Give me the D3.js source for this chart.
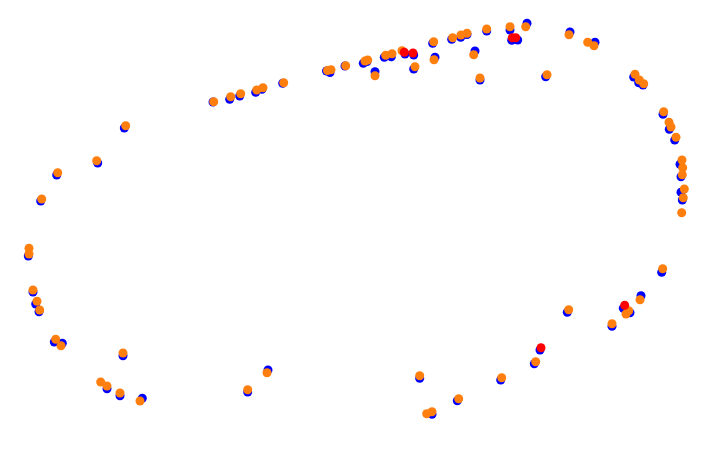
<!DOCTYPE html>
<html><head><meta charset="utf-8">
<script src="https://cdn.jsdelivr.net/npm/d3@7"></script>
<style>html,body{margin:0;padding:0;background:#fff;}svg{display:block;}</style>
</head><body>
<script>
const blueX=[40.7,56.7,97.7,124.3,213,229.7,239.7,255.7,262,282.7,326.5,330,345,363.3,367,375,384.3,391.3,405,413.7,413.7,432.7,435,451.7,460.7,467,475,480,486.7,510,511.7,517.7,527,545.7,570,595,633.7,638.7,643,663,669.3,674.7,680,681,681,682.3,28.3,33,35.7,39,54.3,62.3,123,107,120,142.3,247.7,268,661.7,641,623.3,630,612,567.3,540,534.3,500.7,419.7,457.3,432];
const blueY=[201,175,163,128,102,99.3,96,92.3,89.3,83.3,71,72.5,66,63.3,61.5,71.7,57.3,56.7,54,55,69,43.3,57.3,39.3,37.3,34.5,51,80,31,30,40.3,40,23.3,76.7,32,42.3,77,82.7,85,114.3,129.3,140,164.3,176.7,192.3,200,256,292,304,311.7,342,343.3,355.7,388.7,395.7,398.3,392,370,272.3,295.7,308.3,312.7,326.3,312.3,350,363.7,380,378.3,400.7,414.3];
const orangeX=[41.7,57.7,96.7,125.7,213.7,230.7,240.7,256.7,263,283.7,327.5,331,345.7,365,367.7,375,385.7,392,402,415,433.7,434,452.7,461,467,473.7,480,486.7,510,525.7,547,569,587.7,594,635,639.3,643.7,663.7,669,671,676,682,682.7,682.3,684.3,683.3,681.7,29,29,33,37,39.7,55.7,61,123,100.7,107,120,140,247.7,267,662.7,640,628.7,626,612,568.7,535.7,501.7,419.7,458.7,432,426.7];
const orangeY=[199,172.7,160.7,125.7,101.7,96.7,93.7,90,87.7,82.7,70.5,69.7,65.7,61,60,75.7,55.3,53.7,50.7,66.7,41.7,59.7,37.7,35,33.3,54.7,78,29,26.7,26.7,74.7,34.7,42.3,45.7,74.3,80,83.7,111.7,122.3,127,137.3,160,167.7,174.7,189,197.7,212.7,248.3,254,290,301.3,310,339.3,345.7,353,382,386,393,401,389.7,372.7,268.7,299.7,310.7,314,323.7,309.7,361.7,377.7,375.7,398.7,411.7,413.7];
const redX=[404.3,413,512.3,515.7,624.7,541];
const redY=[52.3,53,37.7,37.7,305.3,347.7];

const W=711,H=476;
const svg=d3.select("body").append("svg").attr("width",W).attr("height",H);
const x=d3.scaleLinear().domain([0,711]).range([0,W]);
const y=d3.scaleLinear().domain([0,476]).range([0,H]);
const r=4.5;
function draw(xs,ys,color){
  svg.append("g").selectAll("circle").data(xs.map((v,i)=>[v,ys[i]])).join("circle")
    .attr("cx",d=>x(d[0])).attr("cy",d=>y(d[1])).attr("r",r).attr("fill",color);
}
draw(blueX,blueY,"#0000ff");
draw(orangeX,orangeY,"#ff7f0e");
draw(redX,redY,"#ff0000");
</script>
</body></html>
